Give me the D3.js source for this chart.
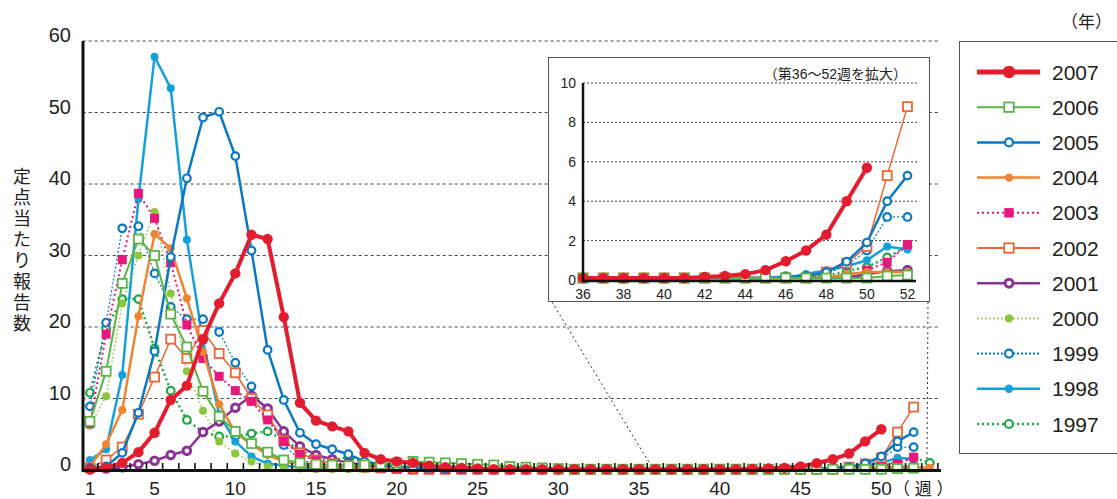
<!DOCTYPE html>
<html>
<head>
<meta charset="utf-8">
<script src="https://cdn.jsdelivr.net/npm/d3@7"></script>
<style>
  body { margin: 0; background: #fff; }
  svg { display: block; font-family: "Liberation Sans", Arial, "Noto Sans CJK JP", sans-serif; }
</style>
</head>
<body>
<svg id="chart" width="1117" height="499"></svg>
<script>
// weekly reports per sentinel site, week 1 onwards
const v2007 = [0.1, 0.3, 1.0, 2.5, 5.2, 9.8, 11.8, 18.3, 23.3, 27.5,
  32.9, 32.3, 21.4, 9.4, 6.9, 6.1, 5.4, 2.4, 1.5, 1.2,
  1.0, 0.6, 0.4, 0.3, 0.2, 0.1, 0.1, 0.1, 0.1, 0.1,
  0.1, 0.1, 0.1, 0.1, 0.1, 0.1, 0.1, 0.1, 0.1, 0.1,
  0.1, 0.15, 0.2, 0.3, 0.5, 0.95, 1.5, 2.3, 4.0, 5.7];
const v2006 = [6.8, 13.8, 26.1, 32.3, 30.0, 21.8, 17.2, 11.0, 7.5, 5.4,
  3.7, 2.5, 1.4, 1.0, 0.8, 0.7, 0.6, 0.7, 0.8, 1.0,
  1.2, 1.1, 1.0, 0.9, 0.8, 0.7, 0.5, 0.4, 0.3, 0.2,
  0.1, 0.1, 0.1, 0.1, 0.1, 0.1, 0.1, 0.1, 0.1, 0.1,
  0.1, 0.1, 0.1, 0.1, 0.1, 0.1, 0.1, 0.1, 0.1, 0.1,
  0.2, 0.25];
const v2005 = [0.3, 0.5, 2.4, 8.0, 16.6, 29.8, 40.8, 49.3, 50.1, 43.9,
  30.7, 16.8, 9.8, 5.2, 3.6, 2.9, 2.2, 1.2, 0.8, 0.5,
  0.4, 0.3, 0.2, 0.1, 0.1, 0.1, 0.1, 0.1, 0.1, 0.1,
  0.1, 0.1, 0.1, 0.1, 0.1, 0.1, 0.1, 0.1, 0.1, 0.1,
  0.1, 0.1, 0.1, 0.1, 0.1, 0.15, 0.2, 0.4, 0.93, 1.9,
  4.0, 5.3];
const v2004 = [0.5, 3.6, 8.4, 21.5, 33.0, 31.0, 24.0, 16.5, 9.2, 5.2,
  3.6, 2.1, 1.2, 0.8, 0.5, 0.4, 0.3, 0.3, 0.2, 0.2,
  0.1, 0.1, 0.1, 0.1, 0.1, 0.1, 0.1, 0.1, 0.1, 0.1,
  0.1, 0.1, 0.1, 0.1, 0.1, 0.1, 0.1, 0.1, 0.1, 0.1,
  0.1, 0.1, 0.1, 0.1, 0.1, 0.1, 0.1, 0.1, 0.3, 0.4,
  0.4, 0.4, 0.3];
const v2003 = [6.5, 19.0, 29.4, 38.7, 35.2, 29.0, 20.3, 15.6, 13.1, 11.1,
  9.6, 7.0, 4.0, 2.2, 1.3, 0.8, 0.5, 0.4, 0.3, 0.2,
  0.1, 0.1, 0.1, 0.1, 0.1, 0.1, 0.1, 0.1, 0.1, 0.1,
  0.1, 0.1, 0.1, 0.1, 0.1, 0.1, 0.1, 0.1, 0.1, 0.1,
  0.1, 0.1, 0.1, 0.1, 0.1, 0.1, 0.1, 0.1, 0.1, 0.5,
  0.9, 1.8];
const v2002 = [0.3, 1.4, 3.2, 7.8, 13.0, 18.3, 15.6, 19.5, 16.3, 13.6,
  10.0, 7.7, 4.1, 2.4, 1.4, 0.9, 0.6, 0.4, 0.3, 0.2,
  0.1, 0.1, 0.1, 0.1, 0.1, 0.1, 0.1, 0.1, 0.1, 0.1,
  0.1, 0.1, 0.1, 0.1, 0.1, 0.1, 0.1, 0.1, 0.1, 0.1,
  0.1, 0.1, 0.1, 0.1, 0.1, 0.1, 0.1, 0.4, 0.85, 1.7,
  5.3, 8.8];
const v2001 = [0.1, 0.2, 0.4, 0.8, 1.3, 2.1, 2.7, 5.3, 6.8, 8.7,
  10.4, 8.6, 5.4, 3.3, 2.1, 1.5, 1.0, 0.7, 0.5, 0.3,
  0.2, 0.1, 0.1, 0.1, 0.1, 0.1, 0.1, 0.1, 0.1, 0.1,
  0.1, 0.1, 0.1, 0.1, 0.1, 0.1, 0.1, 0.1, 0.1, 0.1,
  0.1, 0.1, 0.1, 0.1, 0.1, 0.1, 0.1, 0.1, 0.1, 0.3,
  0.45, 0.5];
const v2000 = [6.2, 10.3, 23.3, 30.0, 36.1, 24.7, 13.8, 8.3, 4.0, 2.3,
  1.2, 0.5, 0.3, 0.2, 0.1, 0.1, 0.1, 0.1, 0.1, 0.1,
  0.1, 0.1, 0.1, 0.1, 0.1, 0.1, 0.1, 0.1, 0.1, 0.1,
  0.1, 0.1, 0.1, 0.1, 0.1, 0.1, 0.1, 0.1, 0.1, 0.1,
  0.1, 0.1, 0.1, 0.1, 0.1, 0.1, 0.1, 0.1, 0.1, 0.3,
  0.35, 0.4];
const v1999 = [8.9, 20.6, 33.8, 34.1, 27.5, 22.8, 21.1, 21.1, 19.3, 15.0,
  11.7, 7.5, 3.5, 1.4, 0.9, 0.6, 0.4, 0.3, 0.2, 0.1,
  0.1, 0.1, 0.1, 0.1, 0.1, 0.1, 0.1, 0.1, 0.1, 0.1,
  0.1, 0.1, 0.1, 0.1, 0.1, 0.1, 0.1, 0.1, 0.1, 0.1,
  0.1, 0.1, 0.1, 0.1, 0.1, 0.1, 0.1, 0.3, 0.75, 1.5,
  3.2, 3.2];
const v1998 = [1.4, 2.9, 13.3, 37.9, 57.8, 53.4, 32.2, 18.0, 7.8, 4.0,
  1.9, 0.9, 0.6, 0.4, 0.3, 0.3, 0.2, 0.2, 0.1, 0.1,
  0.1, 0.1, 0.1, 0.1, 0.1, 0.1, 0.1, 0.1, 0.1, 0.1,
  0.1, 0.1, 0.1, 0.1, 0.1, 0.1, 0.1, 0.1, 0.1, 0.1,
  0.1, 0.1, 0.1, 0.1, 0.1, 0.1, 0.3, 0.5, 0.7, 1.0,
  1.7, 1.55];
const v1997 = [10.8, 19.8, 23.9, 23.9, 17.0, 11.1, 7.0, 5.3, 4.7, 4.7,
  5.1, 5.4, 4.2, 2.8, 1.5, 1.4, 1.8, 0.9, 0.6, 0.4,
  0.3, 0.2, 0.1, 0.1, 0.1, 0.1, 0.1, 0.1, 0.1, 0.1,
  0.1, 0.1, 0.1, 0.1, 0.1, 0.1, 0.1, 0.1, 0.1, 0.1,
  0.1, 0.1, 0.1, 0.1, 0.1, 0.2, 0.2, 0.2, 0.45, 0.65,
  1.15, 1.7, 1.0];

const years = ["2007", "2006", "2005", "2004", "2003", "2002", "2001", "2000", "1999", "1998", "1997"];
const yTicks = [0, 10, 20, 30, 40, 50, 60];
const xTickLabels = [1, 5, 10, 15, 20, 25, 30, 35, 40, 45, 50];
const insetYTicks = [0, 2, 4, 6, 8, 10];
const insetXTicks = [36, 38, 40, 42, 44, 46, 48, 50, 52];

const series = [
  { year: "2007", values: v2007, color: "#e31d2f", width: 4, dash: null, marker: "dot", r: 5.2 },
  { year: "2006", values: v2006, color: "#5bb545", width: 2, dash: null, marker: "square", r: 4.5 },
  { year: "2005", values: v2005, color: "#0a79c2", width: 2.5, dash: null, marker: "ring", r: 3.8 },
  { year: "2004", values: v2004, color: "#f08431", width: 2.5, dash: null, marker: "dot", r: 4 },
  { year: "2003", values: v2003, color: "#e8177b", width: 2, dash: "2,3", marker: "fsquare", r: 4.5 },
  { year: "2002", values: v2002, color: "#ee6535", width: 1.5, dash: null, marker: "square", r: 4.5 },
  { year: "2001", values: v2001, color: "#8a3394", width: 2.5, dash: null, marker: "bull", r: 3.8 },
  { year: "2000", values: v2000, color: "#8cc63f", width: 1.5, dash: "1.5,2.5", marker: "dot", r: 4 },
  { year: "1999", values: v1999, color: "#0a79c2", width: 1.2, dash: "2,2", marker: "ring", r: 3.8 },
  { year: "1998", values: v1998, color: "#14a0db", width: 2.5, dash: null, marker: "dot", r: 4 },
  { year: "1997", values: v1997, color: "#1fa847", width: 2.5, dash: "2,3", marker: "ring", r: 3.8 }
];

const svg = d3.select("#chart");

// main chart scales
const x = d3.scaleLinear().domain([0.55, 53.65]).range([82.7, 940.3]);
const y = d3.scaleLinear().domain([0, 60]).range([470, 41]);

function drawMarker(g, s, cx, cy, k) {
  const r = s.r * k;
  if (s.marker === "dot") {
    g.append("circle").attr("cx", cx).attr("cy", cy).attr("r", r).attr("fill", s.color);
  } else if (s.marker === "ring") {
    g.append("circle").attr("cx", cx).attr("cy", cy).attr("r", r)
      .attr("fill", "#fff").attr("stroke", s.color).attr("stroke-width", 2.2);
  } else if (s.marker === "bull") {
    g.append("circle").attr("cx", cx).attr("cy", cy).attr("r", r)
      .attr("fill", "#fff").attr("stroke", s.color).attr("stroke-width", 3);
  } else if (s.marker === "square") {
    g.append("rect").attr("x", cx - r).attr("y", cy - r).attr("width", 2 * r).attr("height", 2 * r)
      .attr("fill", "#fff").attr("stroke", s.color).attr("stroke-width", 1.8);
  } else {
    g.append("rect").attr("x", cx - r).attr("y", cy - r).attr("width", 2 * r).attr("height", 2 * r)
      .attr("fill", s.color);
  }
}

function drawSeries(g, xs, ys, s, firstWeek, lastWeek) {
  const pts = s.values.map((v, i) => [i + 1, v]).filter(d => d[0] >= firstWeek && d[0] <= lastWeek);
  const line = d3.line().x(d => xs(d[0])).y(d => ys(d[1]));
  g.append("path").datum(pts).attr("d", line).attr("fill", "none")
    .attr("stroke", s.color).attr("stroke-width", s.width)
    .attr("stroke-dasharray", s.dash).attr("stroke-linejoin", "round");
  pts.forEach(d => drawMarker(g, s, xs(d[0]), ys(d[1]), 1));
}

// gridlines
svg.append("g").selectAll("line").data(yTicks.filter(d => d > 0)).join("line")
  .attr("x1", x.range()[0]).attr("x2", x.range()[1])
  .attr("y1", d => y(d)).attr("y2", d => y(d))
  .attr("stroke", "#444").attr("stroke-width", 1).attr("stroke-dasharray", "3,3");

// y labels
svg.append("g").selectAll("text").data(yTicks).join("text")
  .attr("x", 71).attr("y", d => y(d) + 1)
  .attr("text-anchor", "end").attr("font-size", 20).attr("fill", "#222")
  .text(d => d);

// x labels
svg.append("g").selectAll("text").data(xTickLabels).join("text")
  .attr("x", d => x(d)).attr("y", 495)
  .attr("text-anchor", "middle").attr("font-size", 19).attr("fill", "#222")
  .text(d => d);
svg.append("text").attr("x", 893).attr("y", 495).attr("font-size", 17).attr("fill", "#222")
  .text("（ 週 ）");

// y title, stacked characters
const yTitle = svg.append("text").attr("font-size", 18).attr("fill", "#222").attr("text-anchor", "middle");
Array.from("定点当たり報告数").forEach((c, i) => {
  yTitle.append("tspan").attr("x", 22).attr("y", 183 + i * 21).text(c);
});

// series on main chart
const gMain = svg.append("g");
series.slice().reverse().forEach(s => drawSeries(gMain, x, y, s, 1, 53));

// axes
svg.append("g").selectAll("line").data(d3.range(1.5, 54, 1)).join("line")
  .attr("x1", d => x(d)).attr("x2", d => x(d))
  .attr("y1", 470).attr("y2", 463).attr("stroke", "#111").attr("stroke-width", 1.6);
svg.append("line").attr("x1", 82.7).attr("x2", 941).attr("y1", 470.5).attr("y2", 470.5)
  .attr("stroke", "#111").attr("stroke-width", 3);
svg.append("line").attr("x1", 83).attr("x2", 83).attr("y1", 41).attr("y2", 472)
  .attr("stroke", "#111").attr("stroke-width", 3);

// inset connectors
svg.append("line").attr("x1", 552).attr("y1", 302).attr("x2", x(35.6)).attr("y2", 462)
  .attr("stroke", "#333").attr("stroke-width", 1).attr("stroke-dasharray", "2,3");
svg.append("line").attr("x1", 928).attr("y1", 302).attr("x2", 927).attr("y2", 462)
  .attr("stroke", "#333").attr("stroke-width", 1).attr("stroke-dasharray", "2,3");

// inset
const xi = d3.scaleLinear().domain([36, 52.5]).range([583, 917.6]);
const yi = d3.scaleLinear().domain([0, 10]).range([280, 83]);
const gIn = svg.append("g");
gIn.append("rect").attr("x", 548.5).attr("y", 57.5).attr("width", 381).attr("height", 244)
  .attr("fill", "#fff").attr("stroke", "#555").attr("stroke-width", 1);
gIn.append("g").selectAll("line").data(insetYTicks.filter(d => d > 0)).join("line")
  .attr("x1", 583).attr("x2", 917).attr("y1", d => yi(d)).attr("y2", d => yi(d))
  .attr("stroke", "#444").attr("stroke-width", 1).attr("stroke-dasharray", "2,2");
gIn.append("g").selectAll("text").data(insetYTicks).join("text")
  .attr("x", 576).attr("y", d => yi(d) + 5)
  .attr("text-anchor", "end").attr("font-size", 14).attr("fill", "#222").text(d => d);
gIn.append("g").selectAll("text").data(insetXTicks).join("text")
  .attr("x", d => xi(d)).attr("y", 299)
  .attr("text-anchor", "middle").attr("font-size", 14).attr("fill", "#222").text(d => d);
gIn.append("text").attr("x", 907).attr("y", 79).attr("text-anchor", "end")
  .attr("font-size", 14).attr("fill", "#222").text("（第36～52週を拡大）");
const gInS = gIn.append("g");
series.slice().reverse().forEach(s => drawSeries(gInS, xi, yi, s, 36, 52));
gIn.append("line").attr("x1", 583).attr("x2", 916).attr("y1", 281).attr("y2", 281)
  .attr("stroke", "#111").attr("stroke-width", 2.5);
gIn.append("line").attr("x1", 583).attr("x2", 583).attr("y1", 83).attr("y2", 282)
  .attr("stroke", "#111").attr("stroke-width", 2.5);

// legend
svg.append("text").attr("x", 1112).attr("y", 28).attr("text-anchor", "end")
  .attr("font-size", 17).attr("fill", "#222").text("（年）");
const gLeg = svg.append("g");
gLeg.append("rect").attr("x", 959.5).attr("y", 41.5).attr("width", 170).attr("height", 412)
  .attr("fill", "#fff").attr("stroke", "#555").attr("stroke-width", 1);
series.forEach((s, i) => {
  const ly = 72 + i * 35.2;
  gLeg.append("line").attr("x1", 977).attr("x2", 1040).attr("y1", ly).attr("y2", ly)
    .attr("stroke", s.color).attr("stroke-width", s.year === "2007" ? 5 : Math.max(s.width, 2))
    .attr("stroke-dasharray", s.dash);
  drawMarker(gLeg, s, 1009, ly, s.year === "2007" ? 1.2 : 1.05);
  gLeg.append("text").attr("x", 1052).attr("y", ly + 7.5)
    .attr("font-size", 21).attr("fill", "#222").text(s.year);
});
</script>
</body>
</html>
